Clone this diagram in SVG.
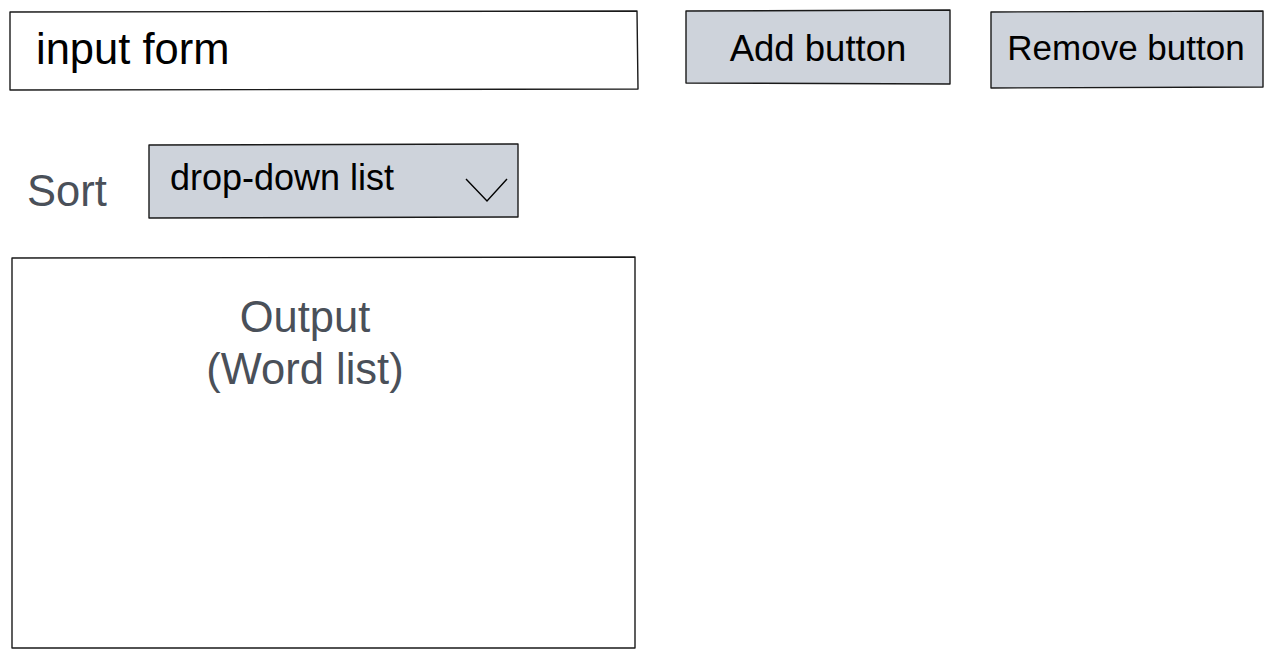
<svg xmlns="http://www.w3.org/2000/svg" width="1273" height="658" viewBox="0 0 1273 658">
<style>
.box{stroke:#1a1a1a;stroke-width:1.4;stroke-linejoin:round}
.w{fill:#ffffff}
.g{fill:#ced3db}
.t{font-family:"Liberation Sans",Arial,sans-serif}
.dark{fill:#000000}
.grey{fill:#4a5059}
</style>
<rect width="1273" height="658" fill="#ffffff"/>
<g id="input-form">
<path class="box w" d="M10,12 L637,11 L638,89 L10,90 Z"/>
<text class="t dark" x="36" y="64" font-size="43.5">input form</text>
</g>
<g id="add-button">
<path class="box g" d="M686,11 L950,10 L950,84 L686,83 Z"/>
<text class="t dark" x="818" y="61" font-size="36.5" text-anchor="middle">Add button</text>
</g>
<g id="remove-button">
<path class="box g" d="M991,12 L1263,11 L1263,87 L991,88 Z"/>
<text class="t dark" x="1126" y="60" font-size="35" text-anchor="middle">Remove button</text>
</g>
<g id="sort-label">
<text class="t grey" x="27" y="206" font-size="43.5">Sort</text>
</g>
<g id="dropdown">
<path class="box g" d="M149,145 L518,144 L518,217 L149,218 Z"/>
<text class="t dark" x="170" y="190" font-size="36">drop-down list</text>
<path d="M466,179 L487,201 L507,179" fill="none" stroke="#000" stroke-width="1.4"/>
</g>
<g id="output">
<path class="box w" d="M12,258 L635,257 L635,648 L12,648 Z"/>
<text class="t grey" x="305" y="332" font-size="43.5" text-anchor="middle">Output</text>
<text class="t grey" x="305" y="384" font-size="43.5" text-anchor="middle">(Word list)</text>
</g>
<g id="connectors"/>
</svg>
